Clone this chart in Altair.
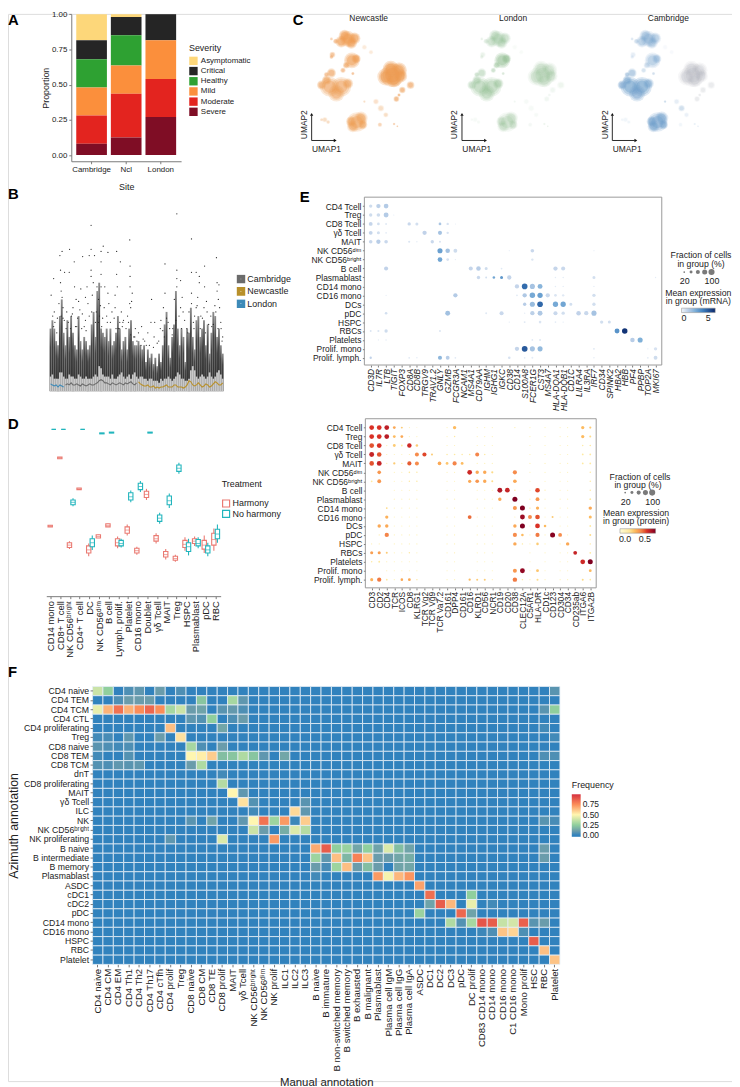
import altair as alt
import pandas as pd

W, H = 732, 1079
FONT = "Liberation Sans"
TXT = "#222222"

# ---------- A ----------
sites = ["Cambridge", "Ncl", "London"]
severity = ["Asymptomatic", "Critical", "Healthy", "Mild", "Moderate", "Severe"]
sev_colors = ["#fdd77a", "#252525", "#2ea132", "#fb8f3c", "#e3241f", "#7f0d25"]
sev_cambridge = [0.185, 0.135, 0.20, 0.20, 0.20, 0.08]
sev_ncl = [0.02, 0.13, 0.215, 0.20, 0.31, 0.125]
sev_london = [0.0, 0.185, 0.0, 0.275, 0.27, 0.27]

# ---------- B ----------
b_tops = [30,34,30,24,22,36,44,28,22,34,26,36,28,22,20,36,24,20,26,24,20,22,32,38,26,48,52,30,28,26,30,24,30,22,24,28,36,30,20,24,26,20,30,34,24,22,22,
          24,22,20,22,14,20,16,18,13,16,12,18,14,22,32,38,22,16,26,32,48,30,22,30,26,14,30,28,40,26,20,34,36,26,30,34,22,32,18,28,38,36,26,30,22,18]
b_q3 = [7,8,6,6,6,9,9,7,6,6,8,7,7,6,6,8,7,6,6,7,6,6,6,7,8,7,12,11,8,7,7,7,6,8,6,6,7,8,9,7,6,7,8,6,8,9,7,6,7,
        7,6,6,5,6,6,5,5,5,4,6,5,6,6,7,6,5,6,7,9,8,6,6,5,5,6,10,12,10,7,6,7,8,7,6,7,9,7,6,7,9,10,8,6]
b_med_london = [3.5,3,2.5,3,2,3,2.5,2]
b_med_cambridge = [3,3.5,3,4,3,3,3.5,3,2.5,3.5,3,2.5,3,3.5,3,3,3.5,4,5,5.5,5,4,4,3.5,3,4,3.5,3,3.5,4,3.5,3,4,3.5,4,4.5,3.5,3,4]
b_med_newcastle = [4.5,3.5,3,2.5,2.5,3,2,2,2.5,1.5,2,1.5,2,2,2.5,3,2,2,2,3,3,2,2,2,1.5,2,3,5,4.5,3,2.5,3,4,3,2,2.5,3.5,3,2,2.5,3.5,4.5,4,3,3,4]
b_out_pos = [168,175,199,214,241,268,268,262,279,300,307,322,350,362,392,393,505,543,543,555,590,590,605,615,632,670,672,678,462,148,140,170,170,183,198,172,215,235,228,220,
             255,268,268,275,287,300,300,300,312,322,350,345,352,393,393,392,400,395,505,500,590,610,615,630,632,605,640,672,676,668,680,543,543,555,560,563,590,360,370,355,
             380,410,430,450,470,460,472,490,520,530,575,600,620,645,660,685,690,150,160,178,190,205,225,240,250,258,285,295,310,325,335,345,365,385,405,420,440,455,480,175,210,250,292,
             145,152,165,172,182,195,208,218,232,246,262,272,282,298,305,318,330,342,358,372,388,398,415,435,492,498,510,515,535,550,568,582,596,608,625,638,652,665,684,
             148,158,178,188,202,222,238,252,270,292,302,320,348,368,395,408,428,445,468,485,503,528,540,558,578,598,618,635,655,675,688]
b_out_val = [65,67,68,62,64.5,79.5,68,65,65,67,69.5,66.5,67,62,72.5,60,61,85,58,53,73,57,57,55,60,64,52,51,44,54,46,58,52,57,57,48,50,49,43,44,
             50,58,55,52,50,62,56,50,50,47,56,46,50,55,50,42,47,40,47,40,47,45,52,40,50,40,38,48,44,38,40,54,50,40,45,38,42,33,33,30,
             30,30,31,28,26,33,33,30,30,30,30,36,36,32,32,30,26,38,35,40,38,36,35,37,34,42,38,36,40,42,38,40,38,36,26,28,24,22,23,45,40,45,44,
             36,33,42,36,34,33,37,31,39,31,36,46,33,41,35,36,33,35,30,34,33,43,24,25,34,29,35,33,44,36,34,38,33,41,35,43,36,41,33,
             31,28,35,30,30,31,30,29,38,33,31,33,30,31,27,26,22,22,21,24,26,27,34,30,28,30,30,28,31,30,24]
b_sites = ["Cambridge", "Newcastle", "London"]
b_site_colors = ["#6b6b6b", "#b8902a", "#3d8ab8"]

# ---------- C : blobs (x, y, radius, Newcastle, London, Cambridge alpha) ----------
blob_x = [185,165,205,175,195,135,148,138,135,197,180,170,210,235,255,135,120,200,130,165,150,185,120,105,320,300,340,325,315,345,375,350,332,340,270,285,300,235,212,200,225,195,230,115,105,125,282,325,335]
blob_y = [100,108,98,90,112,100,107,148,155,165,180,195,160,125,140,203,208,205,245,245,265,235,225,240,210,215,195,225,190,212,240,255,282,270,290,310,330,290,352,365,340,350,360,345,345,352,360,358,365]
blob_r = [24,18,18,18,18,5,8,9,6,24,10,8,14,8,7,14,8,5,30,30,25,16,14,14,36,26,24,22,24,20,12,10,9,5,9,10,8,4,30,18,20,16,14,8,5,6,7,4,3]
blob_n = [.85,.85,.85,.85,.85,.4,.6,.6,.5,.85,.7,.6,.8,.18,.18,.7,.6,.6,.7,.7,.7,.7,.7,.7,.9,.9,.9,.9,.9,.9,.7,.7,.7,.7,.28,.3,.3,.3,.65,.65,.65,.65,.65,.3,.3,.3,.4,.5,.5]
blob_l = [.4,.4,.4,.4,.4,.15,.25,.15,.15,.7,.5,.4,.6,.05,.05,.4,.4,.3,.5,.5,.5,.5,.4,.4,.3,.3,.3,.3,.3,.3,.12,.1,.1,.1,.06,.06,.06,.1,.3,.3,.3,.3,.3,.06,.06,.06,.08,.15,.15]
blob_c = [.45,.45,.45,.45,.45,.2,.3,.15,.15,.45,.3,.25,.4,.05,.05,.5,.5,.3,.8,.8,.7,.6,.6,.7,.3,.3,.3,.3,.3,.3,.2,.2,.2,.2,.15,.3,.12,.35,.65,.65,.65,.65,.65,.08,.08,.08,.08,.15,.15]
grey_in_cambridge = [24,25,26,27,28,29,30,31,32,33]
umap_names = ["Newcastle", "London", "Cambridge"]
umap_title_x = [248, 230, 245]
umap_colors = ["#ee9c52", "#8fbd90", "#6f9fcb"]

# ---------- D ----------
d_cats = ["CD14 mono","CD8+ T cell","NK CD56ᵇʳⁱᵍʰᵗ","CD4+ T cell","DC","NK CD56ᵈⁱᵐ","B cell","Lymph. prolif.","Platelet","CD16 mono","Doublet","γδ Tcell","MAIT","Treg","HSPC","Plasmablast","pDC","RBC"]
h_med = [.39,.82,.27,.625,.24,.325,.395,.285,.365,.235,.59,.31,.21,.185,.275,.295,.27,.305]
h_q1 = [.385,.815,.255,.62,.22,.315,.385,.265,.345,.22,.57,.295,.195,.175,.255,.28,.245,.27]
h_q3 = [.395,.825,.285,.63,.265,.335,.405,.31,.385,.25,.61,.33,.23,.2,.3,.31,.3,.345]
h_lo = [.385,.815,.245,.62,.2,.315,.385,.25,.33,.21,.555,.28,.18,.165,.235,.265,.22,.235]
h_hi = [.395,.825,.295,.63,.28,.335,.405,.325,.4,.26,.625,.345,.245,.21,.32,.325,.33,.375]
n_med = [1,1,.54,1,.285,.975,.98,.28,.575,.64,.98,.44,.55,.755,.26,.28,.24,.34]
n_q1 = [1,1,.525,1,.26,.972,.977,.265,.555,.62,.977,.42,.525,.735,.23,.265,.22,.31]
n_q3 = [1,1,.555,1,.31,.978,.983,.3,.6,.66,.983,.46,.58,.775,.285,.305,.265,.37]
n_lo = [1,1,.515,1,.24,.972,.977,.255,.54,.605,.977,.405,.505,.72,.205,.25,.2,.285]
n_hi = [1,1,.565,1,.33,.978,.983,.31,.615,.675,.983,.475,.595,.79,.31,.32,.285,.4]
treatments = ["Harmony", "No harmony"]
treat_colors = ["#ea7a72", "#22b5bd"]

# ---------- E ----------
e_rows = ["CD4 Tcell","Treg","CD8 Tcell","γδ Tcell","MAIT","NK CD56ᵈⁱᵐ","NK CD56ᵇʳⁱᵍʰᵗ","B cell","Plasmablast","CD14 mono","CD16 mono","DCs","pDC","HSPC","RBCs","Platelets","Prolif. mono","Prolif. lymph."]
e1_genes = ["CD3D","IL7R","LTB","TIGIT","FOXP3","CD8A","CD8B","TRGV9","TRAV1.2","GNLY","GZMB","FCGR3A","NCAM1","MS4A1","CD79AA","IGHM","IGHG1","IGKC","CD38","CD14","S100A8","FCER1G","CST3","MS4A7","HLA-DQA1","HLA-DQB1","CD1C","LILRA4","IL3RA","IRF7","CD34","SPINK2","HBA2","HBB","PF4","PPBP","TOP2A","MKI67"]
e1_dots = [
 [(0,30,.8),(1,50,1.2),(2,60,1.4)],
 [(0,30,.8),(1,35,.8),(2,65,1.4),(3,4,.3)],
 [(0,40,1),(1,20,.7),(2,10,.4),(5,30,.9),(6,25,.7),(9,20,1.6),(10,15,.6),(11,3,.3)],
 [(0,40,1),(1,25,.7),(2,8,.3),(7,50,1.1),(9,45,1.7),(10,15,.6)],
 [(0,35,.9),(1,50,1.3),(2,35,.9),(5,12,.5),(6,5,.3),(8,30,.9),(9,10,.6)],
 [(9,70,3),(10,55,1.8),(11,40,.8),(21,35,.9),(18,4,.2),(29,4,.2)],
 [(9,60,2.8),(10,20,.6),(11,5,.3),(21,15,.5)],
 [(2,45,1.1),(13,45,1),(14,55,1.3),(15,25,.8),(17,8,.4),(24,50,1),(25,45,.9)],
 [(14,30,.9),(15,10,.7),(16,18,2.8),(17,25,3.2),(18,50,1),(29,25,.7),(24,6,.3),(25,6,.3),(37,5,.3)],
 [(19,50,1),(20,85,4.5),(21,70,1.7),(22,65,2.3),(24,6,.3),(25,5,.3),(29,5,.3)],
 [(11,50,1.4),(19,8,.4),(20,50,1.5),(21,80,2.7),(22,75,3),(23,50,.9),(24,20,.5),(25,15,.4),(29,30,.7),(2,4,.3)],
 [(20,30,1.3),(21,70,2),(22,85,4.6),(24,75,2.7),(25,75,2.8),(26,25,.7),(29,30,.7)],
 [(2,18,.7),(10,65,1.8),(15,10,.4),(17,45,.9),(20,5,.3),(21,50,1.2),(22,65,1.5),(24,45,.9),(25,30,.7),(27,55,1.1),(28,50,.9),(29,70,1.7)],
 [(18,5,.3),(20,10,.4),(22,18,.5),(24,8,.3),(25,5,.3),(30,30,.7),(31,25,.7)],
 [(0,10,.5),(1,12,.5),(2,30,.8),(9,10,.5),(32,65,3.4),(33,80,6)],
 [(1,4,.3),(2,6,.3),(21,8,.4),(22,12,.4),(34,55,1.3),(35,70,2.5)],
 [(19,50,1),(20,90,5),(21,70,1.7),(22,70,2.1),(29,10,.4),(36,4,.3),(37,30,.6)],
 [(0,15,1.1),(5,8,.4),(6,6,.3),(9,45,2.2),(10,40,1.3),(11,8,.4),(18,18,.6),(20,8,.3),(21,10,.3),(29,6,.3),(36,8,.3),(37,40,.8)],
]
e2_genes = ["CD3","CD2","CD4","TCR","ICOS","CD8","KLRG1","TCR Vg2","TCR Vg9","TCR Va7.2","CD161","DPP4","CD161","CD16","KLRD1","CD56","NCR1","CD19","CD20","CD38","CLEC12A","C5AR1","HLA-DR","CD1c","CD123","CD304","CD34","CD235ab","ITGA6","ITGA2B"]
e2_dots = [
 [(0,85,.55),(1,85,.55),(2,85,.62),(3,30,.3),(4,15,.2),(5,4,.05),(6,3,.05),(11,45,.25),(19,6,.05),(28,40,.25),(29,18,.2)],
 [(0,85,.55),(1,85,.55),(2,85,.63),(3,30,.25),(4,30,.3),(11,8,.1),(28,40,.25),(29,15,.15)],
 [(0,85,.5),(1,85,.55),(2,6,.05),(3,30,.2),(4,12,.1),(5,75,.58),(6,25,.2),(28,8,.1),(29,10,.1)],
 [(0,90,.6),(1,80,.5),(2,5,.05),(5,5,.05),(6,60,.38),(7,65,.52),(8,15,.2),(10,8,.1),(11,10,.1),(12,8,.1),(13,10,.1),(14,60,.4),(15,8,.1),(28,12,.1),(29,12,.1)],
 [(0,80,.5),(1,90,.6),(2,6,.05),(3,20,.2),(4,8,.1),(5,65,.48),(6,60,.38),(9,50,.3),(10,30,.22),(11,65,.4),(12,30,.25),(28,12,.1),(29,12,.1)],
 [(1,50,.35),(5,10,.1),(6,8,.1),(13,85,.58),(14,45,.3),(15,45,.3),(16,18,.15),(19,65,.38),(29,8,.1)],
 [(0,12,.1),(1,55,.35),(5,8,.1),(6,8,.1),(13,40,.3),(14,50,.35),(15,45,.3),(16,15,.15),(19,50,.3),(29,8,.1)],
 [(17,90,.65),(18,85,.6),(19,8,.1),(22,80,.52),(23,6,.05),(29,8,.1)],
 [(17,45,.3),(19,95,.8),(22,55,.35),(29,12,.1)],
 [(2,12,.15),(19,60,.35),(20,95,.8),(21,8,.1),(22,40,.28),(29,45,.3)],
 [(2,40,.28),(13,55,.45),(19,4,.05),(20,90,.7),(21,60,.38),(22,80,.5),(24,15,.2),(29,35,.25)],
 [(1,45,.3),(2,45,.3),(19,45,.3),(20,95,.78),(22,85,.55),(23,25,.25),(29,12,.1)],
 [(1,6,.05),(2,70,.4),(19,65,.38),(20,25,.25),(22,65,.42),(24,95,.75),(25,55,.38),(29,15,.15)],
 [(0,4,.05),(1,4,.05),(19,45,.3),(20,8,.1),(22,25,.2),(26,45,.3),(29,8,.1)],
 [(0,35,.33),(1,35,.33),(2,15,.2),(5,8,.1),(11,5,.05),(27,55,.6),(29,12,.1)],
 [(0,8,.1),(1,12,.1),(2,5,.05),(28,85,.58),(29,95,.8)],
 [(2,5,.05),(19,60,.35),(20,90,.72),(22,30,.22),(29,30,.25)],
 [(0,35,.28),(1,70,.42),(2,12,.1),(4,25,.3),(5,30,.3),(6,8,.1),(13,20,.25),(14,15,.2),(15,15,.2),(16,5,.05),(19,75,.42),(20,8,.1),(22,15,.15),(28,15,.15),(29,10,.1)],
]
e2_faint_cols = [3, 4, 5, 6, 10, 11, 14, 15, 16, 21, 23, 25, 26]
frac_levels = [20, 40, 60, 80, 100]
key_sizes = [3, 9, 17, 26, 38]

# ---------- F ----------
f_rows = ["CD4 naive","CD4 TEM","CD4 TCM","CD4 CTL","CD4 proliferating","Treg","CD8 naive","CD8 TEM","CD8 TCM","dnT","CD8 proliferating","MAIT","γδ Tcell","ILC","NK","NK CD56ᵇʳⁱᵍʰᵗ","NK proliferating","B naive","B intermediate","B memory","Plasmablast","ASDC","cDC1","cDC2","pDC","CD14 mono","CD16 mono","HSPC","RBC","Platelet"]
f_cols = ["CD4 naive","CD4 CM","CD4 EM","CD4 Th1","CD4 Th2","CD4 Th17","CD4 cTfh","CD4 prolif","Treg","CD8 naive","CD8 CM","CD8 TE","CD8 prolif","MAIT","γδ Tcell","NK CD56ᵇʳⁱᵍʰᵗ","NK CD56ᵈⁱᵐ","NK prolif","ILC1","ILC2","ILC3","B naive","B immature","B non-switched memory","B switched memory","B exhausted","B malignant","Plasmablast","Plasma cell IgM","Plasma cell IgG","Plasma cell IgA","ASDC","DC1","DC2","DC3","pDC","DC prolif","CD83 CD14 mono","CD14 mono","CD16 mono","C1 CD16 mono","Mono prolif","HSC","RBC","Platelet"]
f_cells = [
 [(0,.38),(1,.25),(3,.05),(4,.08),(6,.1),(8,.05),(44,.07)],
 [(2,.05),(3,.1),(4,.1),(5,.1),(10,.22),(13,.3),(14,.08)],
 [(0,.45),(1,.66),(2,.82),(3,.67),(4,.75),(5,.85),(6,.75),(7,.3),(8,.38),(9,.1),(10,.12),(12,.07),(13,.09),(14,.05),(43,.07),(44,.25)],
 [(9,.08),(10,.06),(11,.25),(13,.05),(14,.1)],
 [(7,.63),(12,.13),(43,.03)],
 [(0,.03),(1,.04),(3,.08),(6,.1),(8,.55),(44,.03)],
 [(0,.07),(1,.05),(2,.03),(3,.05),(9,.3),(10,.05),(12,.1)],
 [(0,.03),(3,.06),(9,.5),(10,.52),(11,.6),(12,.2),(13,.22),(14,.32),(15,.22),(16,.08),(18,.13),(43,.05),(44,.05)],
 [(0,.06),(1,.05),(2,.08),(3,.07),(4,.08),(9,.1),(10,.32)],
 [(12,.03)],
 [(12,.33)],
 [(13,.5),(14,.08)],
 [(14,.55),(15,.06),(20,.07)],
 [(15,.03),(19,.57),(20,.08)],
 [(9,.07),(11,.12),(14,.08),(15,.5),(16,.82),(17,.28),(18,.72),(19,.02),(20,.6),(43,.07),(44,.04)],
 [(15,.38),(16,.1),(18,.15),(19,.42),(20,.33)],
 [(7,.08),(12,.42),(17,.72)],
 [(21,.68),(22,.88),(23,.25),(24,.27),(25,.13),(26,.25),(27,.12),(28,.42),(29,.2),(30,.12),(43,.1)],
 [(21,.28),(22,.08),(23,.63),(24,.18),(25,.78),(26,.62),(27,.1),(28,.1),(29,.13),(30,.15),(43,.1)],
 [(21,.1),(22,.04),(23,.28),(24,.63),(25,.1),(26,.2),(27,.1),(29,.12),(30,.13)],
 [(21,.03),(27,.72),(28,.48),(29,.65),(30,.73)],
 [(31,.7)],
 [(32,.83),(36,.25)],
 [(32,.12),(33,.88),(34,.65),(36,.45),(38,.03)],
 [(31,.27),(35,.85),(36,.12)],
 [(34,.32),(35,.06),(36,.3),(37,.9),(38,.88),(39,.37),(40,.4),(41,.87),(42,.07),(43,.1)],
 [(37,.02),(38,.05),(39,.62),(40,.58),(41,.05)],
 [(42,.88)],
 [(43,.63)],
 [(44,.62)],
]


def vx(p):
    return p - 8


def Q(domain, rng):
    return alt.Scale(domain=domain, range=rng, nice=False, zero=False)


AX = dict(grid=False, domainColor="#7a7a7a", tickColor="#7a7a7a", labelColor=TXT, titleColor=TXT,
          labelFont=FONT, titleFont=FONT, titleFontWeight="normal")


def ax_x(py, **kw):
    d = dict(AX, orient="bottom", offset=vx(py) - H)
    d.update(kw)
    return alt.Axis(**d)


def ax_y(px, **kw):
    d = dict(AX, orient="left", offset=-vx(px))
    d.update(kw)
    return alt.Axis(**d)


def label(text, x, y, size=9, align="center", angle=0, weight="normal", color=TXT):
    return alt.Chart(alt.Data(values=[{"t": text}])).mark_text(
        font=FONT, fontSize=size, align=align, baseline="middle", angle=angle, fontWeight=weight, color=color
    ).encode(x=alt.value(vx(x)), y=alt.value(vx(y)), text="t:N")


layers = []

# ---- Panel A
rows_a = []
for site, vals in zip(sites, [sev_cambridge, sev_ncl, sev_london]):
    for i, (sev, v) in enumerate(zip(severity, vals)):
        rows_a.append({"site": site, "sev": sev, "v": v, "ord": i})
a_y = Q([-0.044, 1.0], [vx(157), vx(8.3)])
panel_a = alt.Chart(pd.DataFrame(rows_a)).mark_bar().encode(
    x=alt.X("site:N", scale=alt.Scale(type="band", domain=sites, range=[vx(72), vx(183)], paddingInner=0.114, paddingOuter=0.143),
            axis=ax_x(157, labelAngle=0, title="Site", titleY=22, titleFontSize=9, labelFontSize=8, tickSize=2.5, labelPadding=2)),
    y=alt.Y("v:Q", stack="zero", scale=a_y,
            axis=ax_y(72, values=[0, .25, .5, .75, 1], format=".2f", title="Proportion", titleX=-21, titleFontSize=9, labelFontSize=8, tickSize=2.5)),
    color=alt.Color("sev:N", scale=alt.Scale(domain=severity, range=sev_colors),
                    legend=alt.Legend(orient="none", legendX=vx(191), legendY=vx(39), title="Severity", titleFontSize=9, titleFont=FONT,
                                      titleFontWeight="normal", labelFont=FONT, labelFontSize=8, symbolType="square", symbolSize=72,
                                      symbolStrokeWidth=0, rowPadding=1.3, labelOffset=3, titlePadding=3, labelColor=TXT, titleColor=TXT)),
    order=alt.Order("ord:Q", sort="descending"),
)
layers.append(panel_a)

# ---- Panel B
b_x = Q([0, 92.5], [vx(46), vx(231)])
b_y = Q([-5, 88.4], [vx(400), vx(203)])
df_top = pd.DataFrame({"s": list(range(len(b_tops))), "top": b_tops})
df_q3 = pd.DataFrame({"s": list(range(len(b_q3))), "q3": b_q3})
med_rows = []
k = 0
for site, arr in [("London", b_med_london), ("Cambridge", b_med_cambridge), ("Newcastle", b_med_newcastle)]:
    for v in arr:
        med_rows.append({"s": k, "m": v, "site": site})
        k += 1
df_out = pd.DataFrame({"p": b_out_pos, "v": b_out_val})
df_out["s"] = df_out["p"] / 6 - 23
spike_fill = alt.Gradient(gradient="linear", x1=0, y1=1, x2=0, y2=0,
                          stops=[alt.GradientStop(offset=0, color="#2e2e2e"), alt.GradientStop(offset=.7, color="#444444"), alt.GradientStop(offset=1, color="#8f8f8f")])
b_spikes = alt.Chart(df_top).mark_bar(size=1.9, color=spike_fill).encode(
    x=alt.X("s:Q", scale=b_x, axis=ax_x(400, labels=False, ticks=False, title=None)),
    y=alt.Y("top:Q", scale=b_y, axis=ax_y(46, values=[0, 20, 40, 60, 80], labelExpr="format(datum.value*1000, ',')", title="Total counts",
                                          titleX=-31, titleFontSize=8.5, labelFontSize=9, ticks=False, labelPadding=2)),
)
b_band = alt.Chart(df_q3).mark_bar(size=1.8, color="#c9c9c9").encode(
    x=alt.X("s:Q", scale=b_x, axis=None), y=alt.Y("q3:Q", scale=b_y, axis=None))
b_points = alt.Chart(df_out).mark_circle(size=1.6, color="#2a2a2a", opacity=1).encode(
    x=alt.X("s:Q", scale=b_x, axis=None), y=alt.Y("v:Q", scale=b_y, axis=None))
b_median = alt.Chart(pd.DataFrame(med_rows)).mark_line(strokeWidth=1.1).encode(
    x=alt.X("s:Q", scale=b_x, axis=None), y=alt.Y("m:Q", scale=b_y, axis=None),
    color=alt.Color("site:N", scale=alt.Scale(domain=b_sites, range=b_site_colors),
                    legend=alt.Legend(orient="none", legendX=vx(239), legendY=vx(271.5), title=None, symbolType="square", symbolSize=22,
                                      symbolStrokeWidth=4, labelFont=FONT, labelFontSize=9, rowPadding=2.5, clipHeight=9, labelOffset=2, labelColor=TXT)),
)
layers.append(alt.layer(b_spikes, b_band, b_points, b_median))

# ---- Panel C
alpha_sets = [blob_n, blob_l, blob_c]
for idx, (name, col, alphas) in enumerate(zip(umap_names, umap_colors, alpha_sets)):
    shift = 152 * idx
    rows = []
    for bi, (bx, by, br, al) in enumerate(zip(blob_x, blob_y, blob_r, alphas)):
        tone = "#a3abb4" if (idx == 2 and bi in grey_in_cambridge) else col
        for f, o in [(1.12, .30), (.92, .38), (.7, .5)]:
            rr = br * f / 3
            rows.append({"x": bx, "y": by, "s": 3.1416 * rr * rr, "o": al * o, "c": tone})
    cx = Q([0, 456], [vx(290 + shift), vx(290 + shift + 152)])
    cy = Q([0, 450], [vx(0), vx(150)])
    blobs = alt.Chart(pd.DataFrame(rows)).mark_circle().encode(
        x=alt.X("x:Q", scale=cx, axis=None), y=alt.Y("y:Q", scale=cy, axis=None),
        size=alt.Size("s:Q", scale=None), opacity=alt.Opacity("o:Q", scale=None), color=alt.Color("c:N", scale=None))
    arrows = alt.Chart(pd.DataFrame({"x": [75, 75], "x2": [143, 75], "y": [408, 408], "y2": [408, 332]})).mark_rule(color="#111", strokeWidth=0.9).encode(
        x=alt.X("x:Q", scale=cx, axis=None), x2="x2:Q", y=alt.Y("y:Q", scale=cy, axis=None), y2="y2:Q")
    heads = alt.Chart(pd.DataFrame({"x": [145, 75], "y": [408, 330], "a": [90, 0]})).mark_point(shape="triangle", size=11, filled=True, color="#111", opacity=1).encode(
        x=alt.X("x:Q", scale=cx, axis=None), y=alt.Y("y:Q", scale=cy, axis=None), angle=alt.Angle("a:Q", scale=None))
    txt = alt.Chart(pd.DataFrame({"x": [120], "y": [435], "t": ["UMAP1"]})).mark_text(font=FONT, fontSize=8.5, color=TXT).encode(
        x=alt.X("x:Q", scale=cx, axis=None), y=alt.Y("y:Q", scale=cy, axis=None), text="t:N")
    txt2 = alt.Chart(pd.DataFrame({"x": [52], "y": [360], "t": ["UMAP2"]})).mark_text(font=FONT, fontSize=8.5, angle=270, color=TXT).encode(
        x=alt.X("x:Q", scale=cx, axis=None), y=alt.Y("y:Q", scale=cy, axis=None), text="t:N")
    ttl = alt.Chart(pd.DataFrame({"x": [umap_title_x[idx]], "y": [38], "t": [name]})).mark_text(font=FONT, fontSize=8.5, color=TXT).encode(
        x=alt.X("x:Q", scale=cx, axis=None), y=alt.Y("y:Q", scale=cy, axis=None), text="t:N")
    layers.append(alt.layer(blobs, arrows, heads, txt, txt2, ttl))

# ---- Panel D
d_y = Q([-0.052, 1.04], [vx(596.7), vx(421.7)])
d_axis_x = alt.Scale(type="band", domain=d_cats, range=[vx(46.7), vx(223)], paddingInner=0, paddingOuter=0)
d_axis_layer = alt.Chart(pd.DataFrame({"c": d_cats, "v": [0.0] * len(d_cats)})).mark_tick(opacity=0).encode(
    x=alt.X("c:N", scale=d_axis_x, axis=ax_x(596.7, labelAngle=270, title=None, labelFontSize=9.5, labelOverlap=False, tickSize=2.5, labelPadding=2)),
    y=alt.Y("v:Q", scale=d_y, axis=ax_y(46.7, values=[0, .25, .5, .75, 1], format=".2f", title="kBET statistic", titleX=-28,
                                        titleFontSize=8.5, labelFontSize=8.5, ticks=False, labelPadding=3)),
)
d_layers = [d_axis_layer]
for i, (tr, color, shift, arrs) in enumerate([
    ("Harmony", treat_colors[0], -1.8, (h_med, h_q1, h_q3, h_lo, h_hi)),
    ("No harmony", treat_colors[1], 1.8, (n_med, n_q1, n_q3, n_lo, n_hi)),
]):
    df = pd.DataFrame({"c": d_cats, "med": arrs[0], "q1": arrs[1], "q3": arrs[2], "lo": arrs[3], "hi": arrs[4], "g": tr})
    sx = alt.Scale(type="band", domain=d_cats, range=[vx(47.6 + shift), vx(222.8 + shift)], paddingInner=0, paddingOuter=0)
    whisk = alt.Chart(df).mark_rule(color=color, strokeWidth=1.1).encode(
        x=alt.X("c:N", scale=sx, axis=None), y=alt.Y("lo:Q", scale=d_y, axis=None), y2="hi:Q")
    legend = None
    if i == 0:
        legend = alt.Legend(orient="none", legendX=vx(224), legendY=vx(479), title="Treatment", titleFontSize=9, titleFont=FONT, titleFontWeight="normal",
                            labelFont=FONT, labelFontSize=9, symbolType="square", symbolSize=50, symbolStrokeWidth=1.2, symbolFillColor="#ffffff",
                            titlePadding=10, rowPadding=0.5, clipHeight=10, labelOffset=2, labelColor=TXT, titleColor=TXT)
    box = alt.Chart(df).mark_bar(size=4.4, fill="#ffffff", strokeWidth=1.1).encode(
        x=alt.X("c:N", scale=sx, axis=None), y=alt.Y("q1:Q", scale=d_y, axis=None), y2="q3:Q",
        stroke=alt.Stroke("g:N", scale=alt.Scale(domain=treatments, range=treat_colors), legend=legend))
    med = alt.Chart(df).mark_tick(color=color, size=4.4, thickness=1).encode(
        x=alt.X("c:N", scale=sx, axis=None), y=alt.Y("med:Q", scale=d_y, axis=None))
    d_layers.append(alt.layer(whisk, box, med))
layers.append(alt.layer(*d_layers).resolve_scale(x="independent", stroke="shared"))


# ---- Panel E helpers
def dots_panel(rows_dots, genes, x0, x1, y0, y1, frame, italics, c_dom, c_rng, grad, max_area):
    recs = []
    for r, items in zip(e_rows, rows_dots):
        for g, f, v in items:
            recs.append({"r": r, "g": g, "s": f / 100 * max_area, "v": v})
    gx = alt.Scale(type="point", domain=list(range(len(genes))), range=[vx(x0), vx(x1)], padding=0)
    gy = alt.Scale(type="point", domain=e_rows, range=[vx(y0), vx(y1)], padding=0)
    names = "[" + ",".join("'" + g + "'" for g in genes) + "]"
    xkw = dict(labelFontStyle="italic") if italics else {}
    pts = alt.Chart(pd.DataFrame(recs)).mark_circle(opacity=1).encode(
        x=alt.X("g:O", scale=gx, axis=ax_x(frame[3], labelAngle=270, title=None, labelFontSize=8.5, labelOverlap=False, tickSize=2, labelPadding=1.5,
                                           labelExpr=names + "[datum.value]", domain=False, labelBound=False, **xkw)),
        y=alt.Y("r:N", scale=gy, axis=ax_y(frame[0], title=None, labelFontSize=8.5, labelOverlap=False, tickSize=2, labelPadding=1.5, domain=False)),
        size=alt.Size("s:Q", scale=None),
        color=alt.Color("v:Q", scale=alt.Scale(domain=c_dom, range=c_rng, clamp=True), legend=grad),
    )
    box = alt.Chart(alt.Data(values=[{"t": "frame"}])).mark_rect(fillOpacity=0, stroke="#9a9a9a", strokeWidth=1).encode(
        x=alt.value(vx(frame[0])), x2=alt.value(vx(frame[2])), y=alt.value(vx(frame[1])), y2=alt.value(vx(frame[3])))
    return alt.layer(box, pts)


def size_key(x0, x1, y, label_axis_y):
    df = pd.DataFrame({"f": frac_levels, "s": key_sizes})
    return alt.Chart(df).mark_circle(color="#7a7a7a", opacity=1).encode(
        x=alt.X("f:O", scale=alt.Scale(type="point", domain=frac_levels, range=[vx(x0), vx(x1)], padding=0),
                axis=ax_x(label_axis_y, title=None, labels=True, ticks=False, domain=False, labelAngle=0, labelFontSize=9, labelPadding=1,
                          labelExpr="datum.value==20||datum.value==100 ? datum.label : ''", labelOverlap=False)),
        y=alt.value(vx(y)),
        size=alt.Size("s:Q", scale=None),
    )


def grad_legend(x, y, length, vals, fmt):
    return alt.Legend(orient="none", legendX=vx(x), legendY=vx(y), title=None, direction="horizontal", gradientLength=length, gradientThickness=4.5,
                      values=vals, format=fmt, labelFont=FONT, labelFontSize=9, labelColor=TXT, gradientStrokeColor="#888", gradientStrokeWidth=0.5, labelOverlap=False)


blues_d = [0, 1, 2.5, 4, 6.3]
blues_r = ["#f2f6fb", "#c5d5ea", "#7fb0d8", "#3f7fbf", "#0b2a6b"]
ylor_d = [-.13, .1, .25, .4, .55, .77]
ylor_r = ["#fffbd8", "#fee9a0", "#fdbb60", "#f4854a", "#d93025", "#7f0020"]
e2_all = []
for items in e2_dots:
    used = {g for g, _, _ in items}
    e2_all.append(items + [(c, 5, .0) for c in e2_faint_cols if c not in used])
layers.append(dots_panel(e1_dots, e1_genes, 374.7, 662.7, 202.3, 355.7, (368.3, 193.3, 669, 363), True, blues_d, blues_r,
                         grad_legend(689, 305.5, 34, [0, 5], "d"), 38))
layers.append(size_key(691.7, 719.3, 269, 273))
layers.append(dots_panel(e2_all, e2_genes, 375.7, 596.7, 426.3, 580, (369.3, 417.3, 602.7, 588.3), False, ylor_d, ylor_r,
                         grad_legend(626.7, 528.5, 36, [0, .5], ".1f"), 27))
layers.append(size_key(632, 659.3, 492, 496))

# ---- Panel F
lookup = {}
for r, items in zip(f_rows, f_cells):
    for c, v in items:
        lookup[(r, c)] = v
recs_f = [{"r": r, "c": c, "v": lookup.get((r, ci), 0.0)} for r in f_rows for ci, c in enumerate(f_cols)]
panel_f = alt.Chart(pd.DataFrame(recs_f)).mark_rect(stroke="#e6eff6", strokeWidth=0.8).encode(
    x=alt.X("c:N", scale=alt.Scale(type="band", domain=f_cols, range=[vx(93.5), vx(566)], paddingInner=0, paddingOuter=0),
            axis=ax_x(969, labelAngle=270, title="Manual annotation", titleFontSize=11.5, titleY=113, labelFontSize=9.7, labelOverlap=False, tickSize=2.5,
                      domain=False, labelPadding=1.5, labelBound=False)),
    y=alt.Y("r:N", scale=alt.Scale(type="band", domain=f_rows, range=[vx(688), vx(969)], paddingInner=0, paddingOuter=0),
            axis=ax_y(93.5, title="Azimuth annotation", titleFontSize=12.5, titleX=-73, labelFontSize=8.8, labelOverlap=False, tickSize=2.5, domain=False, labelPadding=1.5)),
    color=alt.Color("v:Q", scale=alt.Scale(domain=[-.04, 0, .1, .25, .5, .75, 1],
                                           range=["#3182bd", "#3182bd", "#6a9cab", "#90cf9d", "#fff6b0", "#fb8d59", "#d7303f"], interpolate="rgb"),
                    legend=alt.Legend(orient="none", legendX=vx(578), legendY=vx(784), title="Frequency", titleFont=FONT, titleFontSize=9, titleFontWeight="normal",
                                      titlePadding=4, values=[0, .25, .5, .75], format=".2f", gradientLength=43, gradientThickness=9, labelFont=FONT,
                                      labelFontSize=8.5, labelColor=TXT, titleColor=TXT, gradientStrokeWidth=0, direction="vertical", labelOverlap=False)),
)
layers.append(panel_f)

# ---- Free text
for t, x, y in [("A", 8, 14), ("B", 8, 190), ("C", 296, 14), ("D", 8, 423), ("E", 303, 193), ("F", 8, 673)]:
    layers.append(label(t, x, y, size=15, align="left", weight="bold", color="#000000"))
for t, x, y in [("Fraction of cells", 708.7, 252), ("in group (%)", 708.7, 260.5), ("Mean expression", 706, 290), ("in group (mRNA)", 706, 298.5),
                ("Fraction of cells", 647, 476), ("in group (%)", 645, 484.5), ("Mean expression", 643, 512.7), ("in group (protein)", 643, 521)]:
    layers.append(label(t, x, y, size=8.8))

chart = alt.layer(*layers).resolve_scale(
    x="independent", y="independent", color="independent", size="independent", opacity="independent", stroke="independent", angle="independent"
).resolve_axis(x="independent", y="independent").resolve_legend(color="independent", stroke="independent", size="independent").properties(
    width=W, height=H, padding=0, autosize=alt.AutoSizeParams(type="none", contains="padding")
).configure_view(strokeWidth=0).configure(font=FONT)

chart.save("out.html", embed_options={"renderer": "svg", "actions": False})
